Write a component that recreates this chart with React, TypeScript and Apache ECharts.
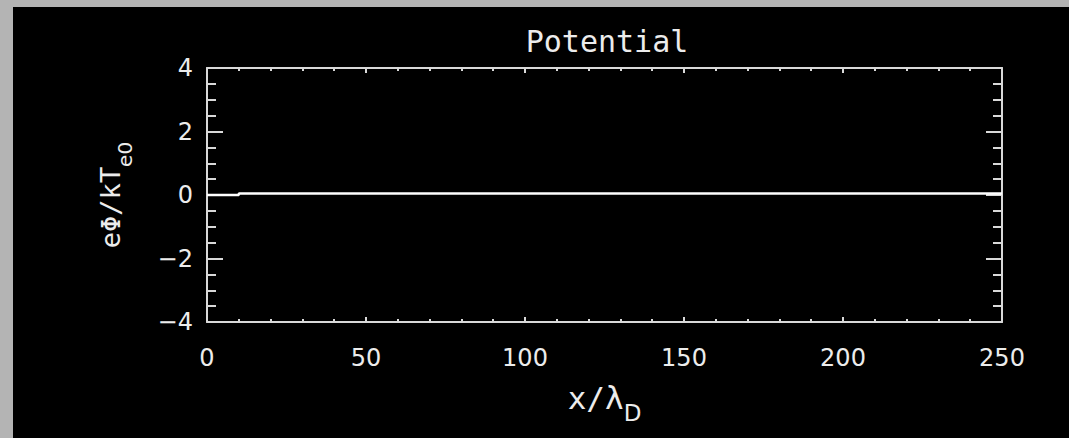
import React, { useEffect, useRef } from "react";
import * as echarts from "echarts";

const titleText = "Potential";
const xPositions = [0, 10, 10, 250];
const potentialValues = [0, 0, 0.05, 0.05];
const xRange = [0, 250];
const yRange = [-4, 4];

const axisColor = "#d9d9d9";
const textColor = "#ececec";
const frameColor = "#b4b4b4";

export default function App() {
  const ref = useRef<HTMLDivElement>(null);
  useEffect(() => {
    if (!ref.current) return;
    const chart = echarts.init(ref.current, undefined, { renderer: "svg" });
    const data = xPositions.map((x, i) => [x, potentialValues[i]]);
    const fmtY = (v: number) => (v < 0 ? "\u2212" + Math.abs(v) : String(v));
    const baseX = {
      type: "value" as const,
      min: xRange[0],
      max: xRange[1],
      interval: 50,
      axisLine: { show: true, onZero: false, lineStyle: { color: axisColor, width: 2 } },
      axisTick: { show: true, inside: true, length: 5, lineStyle: { color: axisColor, width: 2 } },
      minorTick: { show: true, splitNumber: 5, length: 3, lineStyle: { color: axisColor, width: 2 } },
      splitLine: { show: false },
      minorSplitLine: { show: false },
    };
    const baseY = {
      type: "value" as const,
      min: yRange[0],
      max: yRange[1],
      interval: 2,
      axisLine: { show: true, onZero: false, lineStyle: { color: axisColor, width: 2 } },
      axisTick: { show: true, inside: true, length: 16, lineStyle: { color: axisColor, width: 2 } },
      minorTick: { show: true, splitNumber: 4, length: 9, lineStyle: { color: axisColor, width: 2 } },
      splitLine: { show: false },
      minorSplitLine: { show: false },
    };
    chart.setOption({
      animation: false,
      backgroundColor: "#000000",
      graphic: [
        {
          type: "rect",
          z: -10,
          silent: true,
          shape: { x: 0, y: 0, width: 13, height: 438 },
          style: { fill: frameColor },
        },
        {
          type: "rect",
          z: -10,
          silent: true,
          shape: { x: 0, y: 0, width: 1069, height: 7 },
          style: { fill: frameColor },
        },
      ],
      title: {
        text: titleText,
        left: 602,
        textAlign: "center",
        top: 21,
        textStyle: {
          color: textColor,
          fontFamily: "DejaVu Sans Mono",
          fontWeight: "normal",
          fontSize: 30,
        },
      },
      grid: { left: 207, top: 68, right: 67, bottom: 116, containLabel: false },
      xAxis: [
        {
          ...baseX,
          position: "bottom",
          axisLabel: {
            show: true,
            color: textColor,
            fontFamily: "DejaVu Sans",
            fontSize: 24,
            margin: 24,
          },
          name: "{m|x/\u03bb}{s|D}",
          nameLocation: "middle",
          nameGap: 60,
          nameTextStyle: {
            color: textColor,
            rich: {
              m: { fontFamily: "DejaVu Sans Mono", fontSize: 31, color: textColor, lineHeight: 42, verticalAlign: "top" },
              s: { fontFamily: "DejaVu Sans", fontSize: 23, color: textColor, lineHeight: 42, verticalAlign: "bottom", padding: [14, 0, 0, 0] },
            },
          },
        },
        {
          ...baseX,
          position: "top",
          axisLabel: { show: false },
        },
      ],
      yAxis: [
        {
          ...baseY,
          position: "left",
          axisLabel: {
            show: true,
            color: textColor,
            fontFamily: "DejaVu Sans",
            fontSize: 24,
            margin: 14,
            formatter: fmtY,
          },
          name: "{m|e\u03a6/kT}{s|e0}",
          nameLocation: "middle",
          nameRotate: 90,
          nameGap: 72,
          nameTextStyle: {
            color: textColor,
            rich: {
              m: { fontFamily: "DejaVu Sans Mono", fontSize: 27, color: textColor, lineHeight: 38, verticalAlign: "top" },
              s: { fontFamily: "DejaVu Sans", fontSize: 20, color: textColor, lineHeight: 38, verticalAlign: "bottom", padding: [10, 0, 0, 0] },
            },
          },
        },
        {
          ...baseY,
          position: "right",
          axisLabel: { show: false },
        },
      ],
      series: [
        {
          type: "line",
          xAxisIndex: 0,
          yAxisIndex: 0,
          data,
          showSymbol: false,
          symbol: "none",
          lineStyle: { color: "#ffffff", width: 2.5 },
        },
      ],
    });
    return () => chart.dispose();
  }, []);
  return (
    <div
      ref={ref}
      style={{ position: "fixed", left: 0, top: 0, width: 1069, height: 438, background: "#000" }}
    />
  );
}
